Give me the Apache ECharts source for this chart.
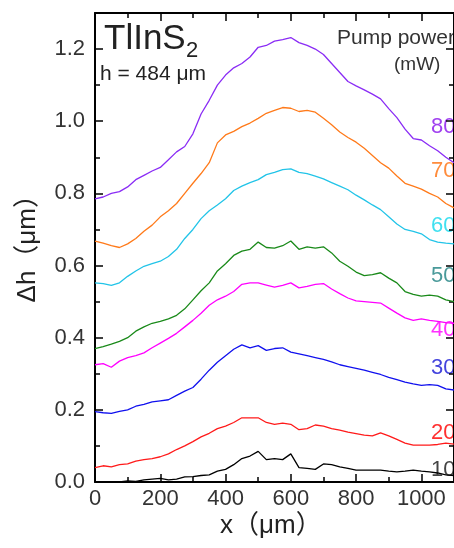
<!DOCTYPE html>
<html><head><meta charset="utf-8">
<script src="https://cdn.jsdelivr.net/npm/echarts@6/dist/echarts.min.js"></script>
<style>html,body{margin:0;padding:0;background:#fff}#c{width:454px;height:548px}</style>
</head><body><div id="c"></div>
<script>
var xs = [0,25,50,75,100,125,150,175,200,225,250,275,300,325,350,375,400,425,450,475,500,525,550,575,600,625,650,675,700,725,750,775,800,825,850,875,900,925,950,975,1000,1025,1050,1075,1100];
var p80 = [0.785,0.79,0.80,0.805,0.818,0.838,0.85,0.862,0.872,0.893,0.915,0.93,0.965,1.02,1.058,1.10,1.128,1.148,1.16,1.178,1.205,1.21,1.222,1.226,1.232,1.218,1.21,1.20,1.185,1.16,1.135,1.11,1.098,1.087,1.075,1.062,1.035,1.01,0.978,0.952,0.948,0.932,0.918,0.90,0.885];
var p70 = [0.668,0.662,0.655,0.65,0.66,0.675,0.695,0.712,0.735,0.752,0.772,0.80,0.828,0.855,0.885,0.94,0.962,0.972,0.985,0.995,1.008,1.022,1.03,1.038,1.036,1.027,1.03,1.025,1.008,0.99,0.97,0.955,0.942,0.925,0.905,0.885,0.87,0.848,0.828,0.82,0.812,0.80,0.79,0.772,0.76];
var p60 = [0.552,0.55,0.545,0.552,0.57,0.585,0.598,0.605,0.612,0.625,0.645,0.675,0.70,0.73,0.752,0.768,0.785,0.808,0.82,0.83,0.838,0.852,0.858,0.866,0.868,0.858,0.855,0.848,0.84,0.83,0.82,0.81,0.795,0.782,0.768,0.755,0.735,0.715,0.70,0.695,0.688,0.672,0.665,0.662,0.66];
var p50 = [0.37,0.375,0.382,0.39,0.40,0.418,0.43,0.44,0.445,0.452,0.462,0.48,0.505,0.53,0.552,0.585,0.605,0.628,0.64,0.645,0.665,0.65,0.648,0.655,0.668,0.645,0.652,0.648,0.652,0.635,0.612,0.598,0.582,0.572,0.575,0.58,0.565,0.552,0.528,0.52,0.515,0.518,0.515,0.505,0.50];
var p40 = [0.325,0.328,0.318,0.335,0.345,0.35,0.358,0.372,0.385,0.398,0.412,0.43,0.448,0.468,0.49,0.505,0.515,0.528,0.548,0.552,0.552,0.546,0.54,0.545,0.552,0.538,0.542,0.548,0.55,0.535,0.522,0.51,0.502,0.50,0.498,0.496,0.482,0.468,0.455,0.448,0.452,0.448,0.445,0.442,0.44];
var p30 = [0.195,0.192,0.19,0.196,0.20,0.21,0.215,0.222,0.225,0.228,0.24,0.252,0.262,0.285,0.31,0.332,0.35,0.368,0.38,0.372,0.378,0.365,0.37,0.372,0.36,0.355,0.35,0.345,0.34,0.333,0.325,0.32,0.315,0.31,0.304,0.298,0.29,0.284,0.277,0.272,0.268,0.27,0.268,0.258,0.255];
var p20 = [0.04,0.045,0.042,0.048,0.05,0.058,0.062,0.065,0.07,0.078,0.09,0.10,0.112,0.125,0.135,0.148,0.155,0.165,0.178,0.178,0.178,0.165,0.16,0.163,0.16,0.145,0.148,0.158,0.155,0.148,0.144,0.138,0.134,0.13,0.128,0.136,0.128,0.118,0.108,0.102,0.102,0.102,0.104,0.108,0.105];
var p10 = [0.0,0.0,0.0,0.0,0.003,0.002,0.006,0.008,0.01,0.006,0.008,0.014,0.015,0.018,0.02,0.03,0.035,0.048,0.065,0.072,0.085,0.062,0.065,0.062,0.078,0.04,0.038,0.035,0.05,0.048,0.042,0.038,0.033,0.033,0.033,0.033,0.03,0.028,0.03,0.033,0.03,0.028,0.025,0.02,0.018];
var powerLabels = ['80','70','60','50','40','30','20','10'];
var lineColors = ['#8a2cf5','#ff7a1a','#22c4e8','#1a8a1a','#ff00ff','#1010ee','#ff1a1a','#000000'];
var labelColors = ['#a040f0','#ff8c3c','#40e0f0','#4a9a9a','#ff30ff','#4444dd','#ff3030','#444444'];
var labelY = [128,172,227,277,331,369,434,471];
var seriesValues = [p80,p70,p60,p50,p40,p30,p20,p10];

var FF = 'Liberation Sans, Arial, Noto Sans CJK JP, sans-serif';
var chart = echarts.init(document.getElementById('c'));
var series = seriesValues.map(function(vals, i){
  return {
    type:'line', name: powerLabels[i], showSymbol:false,
    lineStyle:{color:lineColors[i], width:1.3},
    data: xs.map(function(x,j){ return [x, vals[j]]; }),
    xAxisIndex:0, yAxisIndex:0, silent:true
  };
});
var axisCommon = {
  axisLine:{show:true, onZero:false, lineStyle:{color:'#000', width:2}},
  axisTick:{show:true, inside:true, length:8, lineStyle:{color:'#000', width:1.5}},
  minorTick:{show:true, splitNumber:2, length:5, lineStyle:{color:'#000', width:1.5}},
  splitLine:{show:false}
};
var graphics = [
  {type:'text', left:104, top:22, style:{text:'TlInS', font:'35px '+FF, fill:'#222'}},
  {type:'text', left:186, top:40, style:{text:'2', font:'22px '+FF, fill:'#222'}},
  {type:'text', left:100, top:64, style:{text:'h = 484 μm', font:'21px '+FF, fill:'#222'}},
  {type:'text', left:337, top:28, style:{text:'Pump power', font:'21px '+FF, fill:'#333'}},
  {type:'text', left:394, top:55, style:{text:'(mW)', font:'19px '+FF, fill:'#333'}},
  {type:'text', left:220, top:513, style:{text:'x（μm）', font:'26px '+FF, fill:'#222'}},
  {type:'text', left:15, top:182, rotation:Math.PI/2, style:{text:'Δh（μm）', font:'26px '+FF, fill:'#222'}}
];
powerLabels.forEach(function(t,i){
  graphics.push({type:'text', left:431, top:labelY[i]-12, style:{text:t, font:'22px '+FF, fill:labelColors[i]}});
});
chart.setOption({
  animation:false,
  backgroundColor:'#fff',
  grid:{left:95, right:-7, top:13, bottom:66, containLabel:false},
  xAxis:[
    Object.assign({type:'value', min:0, max:1100, interval:200, position:'bottom',
      axisLabel:{show:true, showMaxLabel:false, margin:6, fontSize:22, color:'#333', fontFamily:FF,
        formatter:function(v){return String(v);}}}, axisCommon),
    Object.assign({type:'value', min:0, max:1100, interval:200, position:'top',
      axisLabel:{show:false}}, axisCommon)
  ],
  yAxis:[
    Object.assign({type:'value', min:0, max:1.3, interval:0.2, position:'left',
      axisLabel:{show:true, showMaxLabel:false, margin:10, fontSize:22, color:'#333', fontFamily:FF,
        formatter:function(v){return v.toFixed(1);}}}, axisCommon),
    Object.assign({type:'value', min:0, max:1.3, interval:0.2, position:'right',
      axisLabel:{show:false}}, axisCommon)
  ],
  graphic: graphics,
  series: series
});
</script></body></html>
